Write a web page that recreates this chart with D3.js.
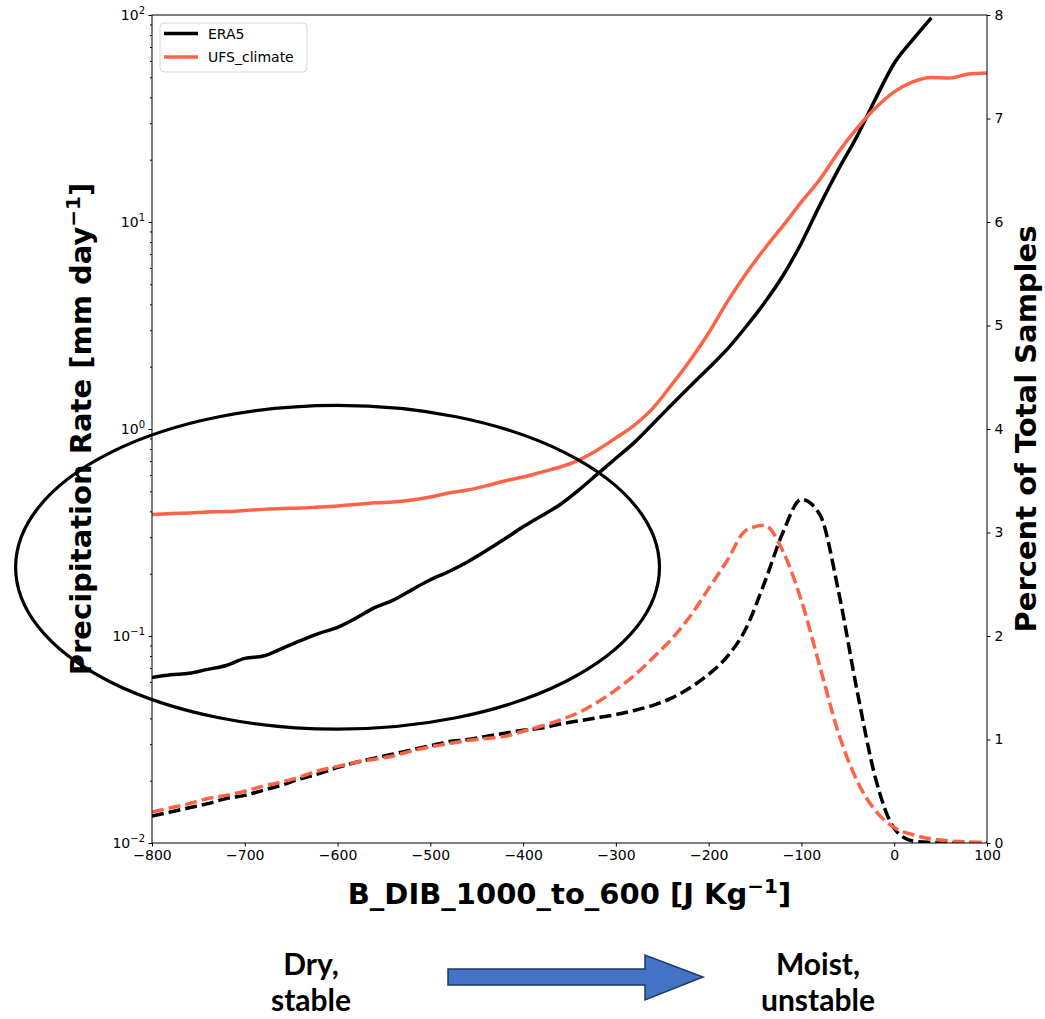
<!DOCTYPE html>
<meta charset="utf-8">
<style>
  body { margin: 0; background: #fff; }
  svg { display: block; }
  .axis text { font-family: "DejaVu Sans", sans-serif; font-size: 14px; fill: #000; }
  .axis line { stroke: #000; stroke-width: 1; }
  .axis path.domain { display: none; }
  .label { font-family: "DejaVu Sans", sans-serif; font-weight: bold; font-size: 29px; fill: #000; }
  .legend text { font-family: "DejaVu Sans", sans-serif; font-size: 14px; fill: #000; }
  .note { font-family: Lato, sans-serif; font-weight: bold; font-size: 30px; fill: #000; }
  path.line { fill: none; stroke-width: 3.5; stroke-linejoin: round; }
  path.dash { stroke-dasharray: 12, 5; }
</style>
<body>
<script src="https://cdn.jsdelivr.net/npm/d3@7"></script>
<script>

    // bin centres, B_DIB_1000_to_600 [J/kg]
    var dib = [-800, -780, -760, -740, -720, -700, -680, -660, -640, -620,
               -600, -580, -560, -540, -520, -500, -480, -460, -440, -420,
               -400, -380, -360, -340, -320, -300, -280, -260, -240, -220,
               -200, -180, -160, -140, -120, -100, -80, -60, -40, -20,
               0, 20, 40, 60, 80, 100];

    // precipitation rate [mm/day] (left, log axis)
    var precipEra5 = [0.063, 0.065, 0.066, 0.069, 0.072, 0.078, 0.080, 0.087, 0.095, 0.103,
                      0.110, 0.122, 0.137, 0.149, 0.167, 0.187, 0.205, 0.228, 0.258, 0.294,
                      0.337, 0.381, 0.432, 0.507, 0.605, 0.722, 0.862, 1.06, 1.31, 1.61,
                      1.97, 2.43, 3.11, 4.06, 5.5, 7.92, 12.1, 18.0, 26.0, 39.5,
                      58.5, 76, 97, null, null, null];
    var precipUfs = [0.386, 0.391, 0.393, 0.397, 0.399, 0.404, 0.409, 0.413, 0.415, 0.420,
                     0.425, 0.432, 0.440, 0.444, 0.454, 0.469, 0.491, 0.507, 0.531, 0.561,
                     0.586, 0.619, 0.655, 0.708, 0.792, 0.906, 1.045, 1.262, 1.633, 2.15,
                     2.91, 4.11, 5.61, 7.41, 9.57, 12.5, 16.1, 21.8, 28.4, 35.6,
                     42.5, 47.5, 49.9, 49.6, 51.9, 52.5];

    // percent of total samples (right axis)
    var pctEra5 = [0.26, 0.30, 0.34, 0.38, 0.43, 0.46, 0.51, 0.56, 0.62, 0.67,
                   0.73, 0.78, 0.82, 0.86, 0.90, 0.94, 0.98, 1.00, 1.03, 1.06,
                   1.09, 1.11, 1.15, 1.18, 1.21, 1.24, 1.28, 1.33, 1.40, 1.50,
                   1.63, 1.80, 2.07, 2.51, 3.00, 3.32, 3.17, 2.43, 1.47, 0.62,
                   0.14, 0.02, 0.005, 0, 0, 0];
    var pctUfs = [0.30, 0.34, 0.38, 0.43, 0.46, 0.50, 0.55, 0.59, 0.64, 0.70,
                  0.74, 0.78, 0.81, 0.84, 0.89, 0.93, 0.96, 0.99, 1.01, 1.03,
                  1.08, 1.13, 1.19, 1.26, 1.36, 1.48, 1.62, 1.79, 1.97, 2.19,
                  2.46, 2.73, 3.02, 3.07, 2.82, 2.34, 1.70, 1.06, 0.60, 0.31,
                  0.15, 0.08, 0.04, 0.02, 0.01, 0.005];

    var xTicks = [-800, -700, -600, -500, -400, -300, -200, -100, 0, 100];
    var yTicks = [1e-2, 1e-1, 1e0, 1e1, 1e2];
    var yExp = ["\u22122", "\u22121", "0", "1", "2"];
    var y2Ticks = [0, 1, 2, 3, 4, 5, 6, 7, 8];

    var seriesNames = ["ERA5", "UFS_climate"];
    var colors = ["#000000", "tomato"];

    var width = 1045, height = 1019;
    var plot = {left: 152, right: 987, top: 15, bottom: 843};

    var x = d3.scaleLinear().domain([-800, 100]).range([plot.left, plot.right]);
    var y = d3.scaleLog().domain([1e-2, 1e2]).range([plot.bottom, plot.top]);
    var y2 = d3.scaleLinear().domain([0, 8]).range([plot.bottom, plot.top]);

    var svg = d3.select("body").append("svg")
            .attr("width", width)
            .attr("height", height);

    svg.append("clipPath")
            .attr("id", "clip")
        .append("rect")
            .attr("x", plot.left)
            .attr("y", plot.top)
            .attr("width", plot.right - plot.left)
            .attr("height", plot.bottom - plot.top);

    function pairs(vals) {
        return dib.map(function(d, i) { return [d, vals[i]]; });
    }

    var precipLine = d3.line()
            .defined(function(d) { return d[1] != null; })
            .x(function(d) { return x(d[0]); })
            .y(function(d) { return y(d[1]); })
            .curve(d3.curveMonotoneX);

    var pctLine = d3.line()
            .x(function(d) { return x(d[0]); })
            .y(function(d) { return y2(d[1]); })
            .curve(d3.curveMonotoneX);

    var lines = svg.append("g").attr("clip-path", "url(#clip)");

    // precipitation axes first, then the twin (percent) axes on top
    lines.append("path").attr("class", "line")
            .attr("stroke", colors[0]).attr("d", precipLine(pairs(precipEra5)));
    lines.append("path").attr("class", "line")
            .attr("stroke", colors[1]).attr("d", precipLine(pairs(precipUfs)));
    lines.append("path").attr("class", "line dash")
            .attr("stroke", colors[0]).attr("d", pctLine(pairs(pctEra5)));
    lines.append("path").attr("class", "line dash")
            .attr("stroke", colors[1]).attr("d", pctLine(pairs(pctUfs)));

    // axes
    var minors = [];
    yTicks.slice(0, -1).forEach(function(t) {
        for (var k = 2; k <= 9; k++) minors.push(t * k);
    });

    svg.append("g")
            .attr("class", "axis")
            .attr("transform", "translate(0," + plot.bottom + ")")
            .call(d3.axisBottom(x).tickValues(xTicks).tickSize(3.5).tickPadding(3.5));

    svg.append("g")
            .attr("class", "axis")
            .attr("transform", "translate(" + plot.left + ",0)")
            .call(d3.axisLeft(y).tickValues(minors).tickSize(2).tickFormat(""));

    var yAxisG = svg.append("g")
            .attr("class", "axis")
            .attr("transform", "translate(" + plot.left + ",0)")
            .call(d3.axisLeft(y).tickValues(yTicks).tickSize(3.5).tickFormat(""));

    yAxisG.selectAll(".tick").each(function(d, i) {
        var t = d3.select(this).append("text")
                .attr("x", -7)
                .attr("dy", "0.32em")
                .attr("text-anchor", "end");
        t.append("tspan").text("10");
        t.append("tspan").attr("dy", -6).style("font-size", "10px").text(yExp[i]);
    });

    svg.append("g")
            .attr("class", "axis")
            .attr("transform", "translate(" + plot.right + ",0)")
            .call(d3.axisRight(y2).tickValues(y2Ticks).tickSize(3.5).tickPadding(4));

    // spines
    svg.append("rect")
            .attr("x", plot.left)
            .attr("y", plot.top)
            .attr("width", plot.right - plot.left)
            .attr("height", plot.bottom - plot.top)
            .attr("fill", "none")
            .attr("stroke", "#000")
            .attr("stroke-width", 1);

    // axis labels
    var xl = svg.append("text")
            .attr("class", "label")
            .attr("x", (plot.left + plot.right) / 2)
            .attr("y", 904)
            .attr("text-anchor", "middle");
    xl.append("tspan").text("B_DIB_1000_to_600 [J Kg");
    xl.append("tspan").attr("dy", -11).style("font-size", "20px").text("\u22121");
    xl.append("tspan").attr("dy", 11).text("]");

    var yl = svg.append("text")
            .attr("class", "label")
            .attr("transform", "translate(91," + (plot.top + plot.bottom) / 2 + ") rotate(-90)")
            .attr("text-anchor", "middle");
    yl.append("tspan").text("Precipitation Rate [mm day");
    yl.append("tspan").attr("dy", -11).style("font-size", "20px").text("\u22121");
    yl.append("tspan").attr("dy", 11).text("]");

    svg.append("text")
            .attr("class", "label")
            .attr("transform", "translate(1036," + (plot.top + plot.bottom) / 2 + ") rotate(-90)")
            .attr("text-anchor", "middle")
            .text("Percent of Total Samples");

    // legend
    var legend = svg.append("g").attr("class", "legend");
    legend.append("rect")
            .attr("x", 160).attr("y", 23)
            .attr("width", 147).attr("height", 49)
            .attr("rx", 4)
            .attr("fill", "#fff").attr("fill-opacity", 0.8)
            .attr("stroke", "#d6d6d6");
    seriesNames.forEach(function(name, i) {
        var ly = 33.5 + i * 23.5;
        legend.append("line")
                .attr("x1", 164).attr("x2", 198)
                .attr("y1", ly).attr("y2", ly)
                .attr("stroke", colors[i])
                .attr("stroke-width", 3.5);
        legend.append("text")
                .attr("x", 208).attr("y", ly + 5)
                .text(name);
    });

    // highlight ellipse round the dry/stable regime
    var ex0 = x(-947), ex1 = x(-253), ey0 = y(1.3), ey1 = y(0.0355);
    svg.append("ellipse")
            .attr("cx", (ex0 + ex1) / 2)
            .attr("cy", (ey0 + ey1) / 2)
            .attr("rx", (ex1 - ex0) / 2)
            .attr("ry", (ey1 - ey0) / 2)
            .attr("fill", "none")
            .attr("stroke", "#000")
            .attr("stroke-width", 3.2);

    // regime annotation below the chart
    var notes = [
        {cx: 311, lines: ["Dry,", "stable"]},
        {cx: 818, lines: ["Moist,", "unstable"]}
    ];
    notes.forEach(function(n) {
        n.lines.forEach(function(s, i) {
            svg.append("text")
                    .attr("class", "note")
                    .attr("x", n.cx)
                    .attr("y", 975 + i * 36)
                    .attr("text-anchor", "middle")
                    .text(s);
        });
    });

    svg.append("polygon")
            .attr("points", [[448, 969], [645, 969], [645, 955], [703, 977],
                             [645, 1000], [645, 985], [448, 985]].join(" "))
            .attr("fill", "#4472C4")
            .attr("stroke", "#1F3864")
            .attr("stroke-width", 1.5)
            .attr("stroke-linejoin", "miter");

</script>
